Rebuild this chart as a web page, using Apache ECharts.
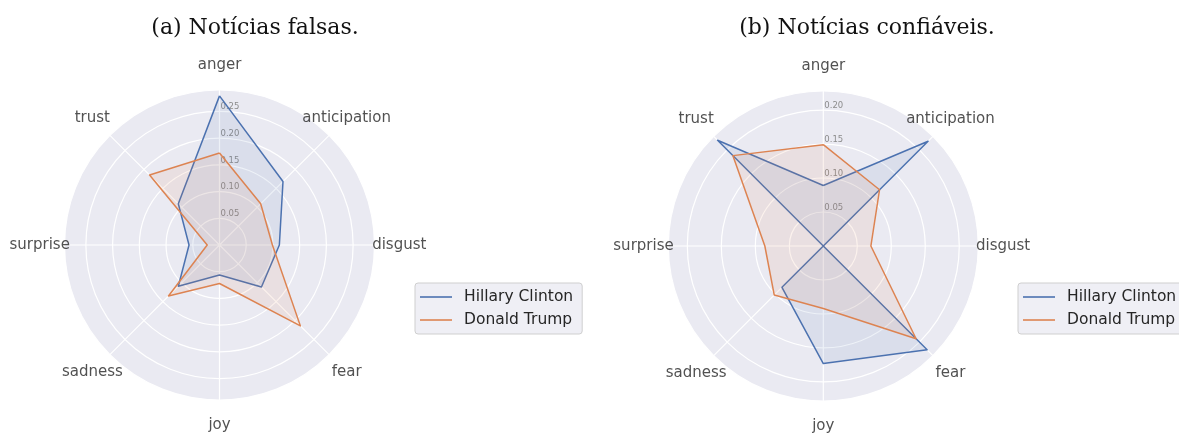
<!DOCTYPE html>
<html>
<head>
<meta charset="utf-8">
<script src="https://cdn.jsdelivr.net/npm/echarts@6/dist/echarts.min.js"></script>
<style>
  html, body { margin: 0; padding: 0; background: #ffffff; }
  #chart { width: 1179px; height: 433px; }
</style>
</head>
<body>
<div id="chart"></div>
<script>
// Emotion categories, clockwise from the top
const emotions = ['anger', 'anticipation', 'disgust', 'fear', 'joy', 'sadness', 'surprise', 'trust'];
const seriesNames = ['Hillary Clinton', 'Donald Trump'];
const panelTitles = ['(a) Notícias falsas.', '(b) Notícias confiáveis.'];

// Emotion proportions in fake news
const fakeClinton = [0.279, 0.168, 0.112, 0.111, 0.056, 0.109, 0.057, 0.109];
const fakeTrump   = [0.172, 0.109, 0.099, 0.214, 0.072, 0.135, 0.023, 0.185];

// Emotion proportions in reliable news
const realClinton = [0.089, 0.218, 0.000, 0.216, 0.173, 0.086, 0.000, 0.220];
const realTrump   = [0.149, 0.117, 0.070, 0.193, 0.092, 0.102, 0.086, 0.188];

// Outer radial limit of each panel
const radialMax = [0.29, 0.228];
const radialStep = 0.05;

const colors = ['#4C72B0', '#DD8452'];
const R = 155;            // outer radius in px
const LABEL_RING = 1.16;  // category labels sit just outside the disc

const panels = [
  { title: panelTitles[0], titleX: 255, center: [219.5, 245], rMax: radialMax[0], data: [fakeClinton, fakeTrump], legendLeft: 415 },
  { title: panelTitles[1], titleX: 867, center: [823.3, 246], rMax: radialMax[1], data: [realClinton, realTrump], legendLeft: 1018 }
];

// radar lays indicators out counter-clockwise; this index order keeps emotions clockwise
const ccw = emotions.map((_, i) => (emotions.length - i) % emotions.length);
const step = 360 / emotions.length;

const option = {
  animation: false,
  backgroundColor: '#ffffff',
  title: panels.map(p => ({
    text: p.title,
    left: p.titleX,
    top: 17,
    textAlign: 'center',
    padding: 0,
    textStyle: { fontFamily: 'DejaVu Serif', fontWeight: 'normal', fontSize: 22, color: '#111111' }
  })),
  polar: panels.map(p => ({ center: p.center, radius: R })),
  angleAxis: panels.map((p, i) => ({
    polarIndex: i,
    type: 'value',
    min: 0,
    max: 360,
    interval: step,
    startAngle: 90,
    clockwise: true,
    axisLine: { show: false },
    axisTick: { show: false },
    axisLabel: { show: false },
    splitLine: { show: true, lineStyle: { color: '#ffffff', width: 1.2 } },
    z: 1
  })),
  radiusAxis: panels.map((p, i) => ({
    polarIndex: i,
    type: 'value',
    min: 0,
    max: p.rMax,
    interval: radialStep,
    axisLine: { show: false },
    axisTick: { show: false },
    axisLabel: {
      show: true,
      showMinLabel: false,
      showMaxLabel: false,
      formatter: v => v.toFixed(2),
      color: '#8c8c8c',
      fontSize: 8.5,
      fontFamily: 'DejaVu Sans',
      margin: -1,
      align: 'left',
      verticalAlign: 'bottom'
    },
    splitLine: { show: true, lineStyle: { color: '#ffffff', width: 1.2 } },
    z: 1
  })),
  // the radar component supplies the grey disc behind the grid
  radar: panels.map(p => ({
    center: p.center,
    radius: R,
    shape: 'circle',
    startAngle: 90,
    splitNumber: 1,
    z: 0,
    indicator: ccw.map(k => ({ name: emotions[k], min: 0, max: p.rMax })),
    axisName: { show: false },
    axisLine: { show: false },
    splitLine: { show: false },
    splitArea: { show: true, areaStyle: { color: ['#EAEAF2'] } },
    axisTick: { show: false },
    axisLabel: { show: false }
  })),
  legend: panels.map(p => ({
    orient: 'vertical',
    left: p.legendLeft,
    top: 283,
    data: seriesNames.map(n => ({ name: n, icon: 'rect' })),
    itemWidth: 32,
    itemHeight: 1.6,
    itemGap: 7,
    padding: [6, 9, 6, 5],
    backgroundColor: 'rgba(236,236,243,0.85)',
    borderColor: '#cfcfcf',
    borderWidth: 1,
    borderRadius: 3,
    selectedMode: false,
    itemStyle: { borderWidth: 0 },
    textStyle: { fontSize: 15.5, color: '#262626', fontFamily: 'DejaVu Sans', padding: [0, 0, 0, 7] }
  })),
  series: []
};

panels.forEach((p, i) => {
  option.series.push({
    type: 'radar',
    radarIndex: i,
    symbol: 'none',
    z: 3,
    data: seriesNames.map((n, j) => ({
      name: n,
      value: ccw.map(k => p.data[j][k]),
      itemStyle: { color: colors[j] },
      lineStyle: { color: colors[j], width: 1.5 },
      areaStyle: { color: colors[j], opacity: 0.1 }
    }))
  });
  // category names centred on a ring outside the disc
  option.series.push({
    type: 'scatter',
    coordinateSystem: 'polar',
    polarIndex: i,
    clip: false,
    silent: true,
    symbolSize: 0,
    itemStyle: { color: '#262626' },
    z: 4,
    data: emotions.map((e, k) => ({ name: e, value: [p.rMax * LABEL_RING, k * step] })),
    label: {
      show: true,
      position: 'inside',
      formatter: '{b}',
      color: '#262626',
      textBorderWidth: 0,
      fontSize: 15,
      fontFamily: 'DejaVu Sans'
    }
  });
});

const chart = echarts.init(document.getElementById('chart'), null, { renderer: 'canvas' });
chart.setOption(option);
</script>
</body>
</html>
